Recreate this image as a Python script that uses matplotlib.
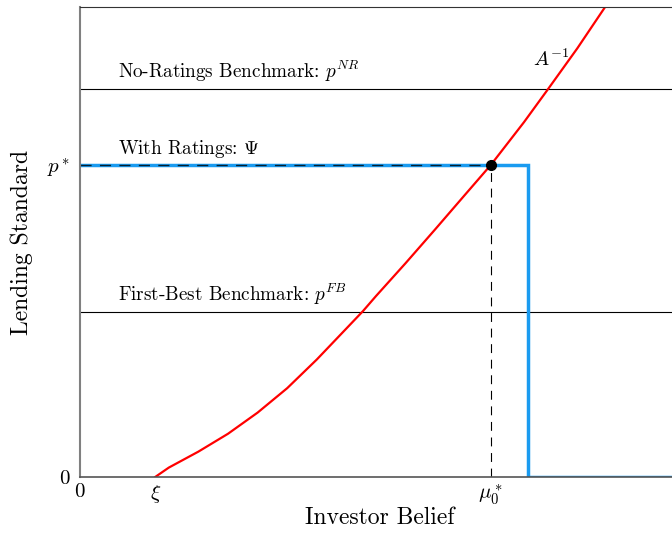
import matplotlib
matplotlib.use("Agg")
import matplotlib.pyplot as plt

plt.rcParams['font.family'] = 'serif'
plt.rcParams['font.serif'] = ['cmr10']
plt.rcParams['mathtext.fontset'] = 'cm'
plt.rcParams['axes.formatter.use_mathtext'] = True

# key levels (axis units 0..1)
xi = 0.127
mu0_star = 0.694
cutoff = 0.757
p_star = 0.664
p_nr = 0.826
p_fb = 0.351

# A^{-1} curve
curve_x = [0.127, 0.15, 0.20, 0.25, 0.30, 0.35, 0.40, 0.45, 0.478,
           0.50, 0.55, 0.60, 0.65, 0.694, 0.75, 0.791, 0.84, 0.887]
curve_y = [0.000, 0.020, 0.054, 0.092, 0.137, 0.189, 0.250, 0.316, 0.353,
           0.385, 0.455, 0.527, 0.600, 0.664, 0.755, 0.826, 0.912, 1.000]

# with-ratings step
psi_x = [0.0, cutoff, cutoff, 1.05]
psi_y = [p_star, p_star, 0.0, 0.0]

xtick_pos = [0.0, xi, mu0_star]
xtick_lab = ['$0$', r'$\xi$', r'$\mu_0^*$']
ytick_pos = [0.0, p_star]
ytick_lab = ['$0$', '$p^*$']

fig = plt.figure(figsize=(6.72, 5.36), dpi=100)
ax = fig.add_axes([80/672, 59/536, 600/672, 470/536])

ax.axhline(p_nr, color='black', lw=0.8)
ax.axhline(p_fb, color='black', lw=0.8)
ax.plot(psi_x, psi_y, color='#1a9bf0', lw=2.5, solid_joinstyle='miter')
ax.plot([0, mu0_star], [p_star, p_star], color='black', lw=1.0, dashes=(8, 6), alpha=0.8)
ax.plot([mu0_star, mu0_star], [0, p_star], color='black', lw=0.8, dashes=(8, 6))
ax.plot(curve_x, curve_y, color='red', lw=1.6)
ax.plot([mu0_star], [p_star], 'o', color='black', ms=7, zorder=5)

ax.text(0.064, p_nr + 0.01, 'No-Ratings Benchmark: $p^{NR}$', fontsize=13.8, va='bottom')
ax.text(0.064, p_star + 0.01, r'With Ratings: $\Psi$', fontsize=13.8, va='bottom')
ax.text(0.064, p_fb + 0.01, 'First-Best Benchmark: $p^{FB}$', fontsize=13.8, va='bottom')
ax.text(0.766, 0.875, '$A^{-1}$', fontsize=14.5)

ax.set_xlim(0, 1.0135)
ax.set_ylim(0, 1)
ax.set_xticks(xtick_pos)
ax.set_xticklabels(xtick_lab)
ax.set_yticks(ytick_pos)
ax.set_yticklabels(ytick_lab)
ax.tick_params(length=0, labelsize=15)
ax.tick_params(axis='x', pad=4)
ax.tick_params(axis='y', pad=7)
ax.set_xlabel('Investor Belief', fontsize=17, labelpad=0)
ax.set_ylabel('Lending Standard', fontsize=17, labelpad=10)

ax.spines['right'].set_visible(False)
ax.spines['left'].set_color('#808080')
ax.spines['left'].set_linewidth(1.5)
ax.spines['bottom'].set_color('#555555')
ax.spines['bottom'].set_linewidth(1.2)
ax.spines['top'].set_color('#333333')
ax.spines['top'].set_linewidth(0.8)

fig.savefig('out.png', dpi=100)
